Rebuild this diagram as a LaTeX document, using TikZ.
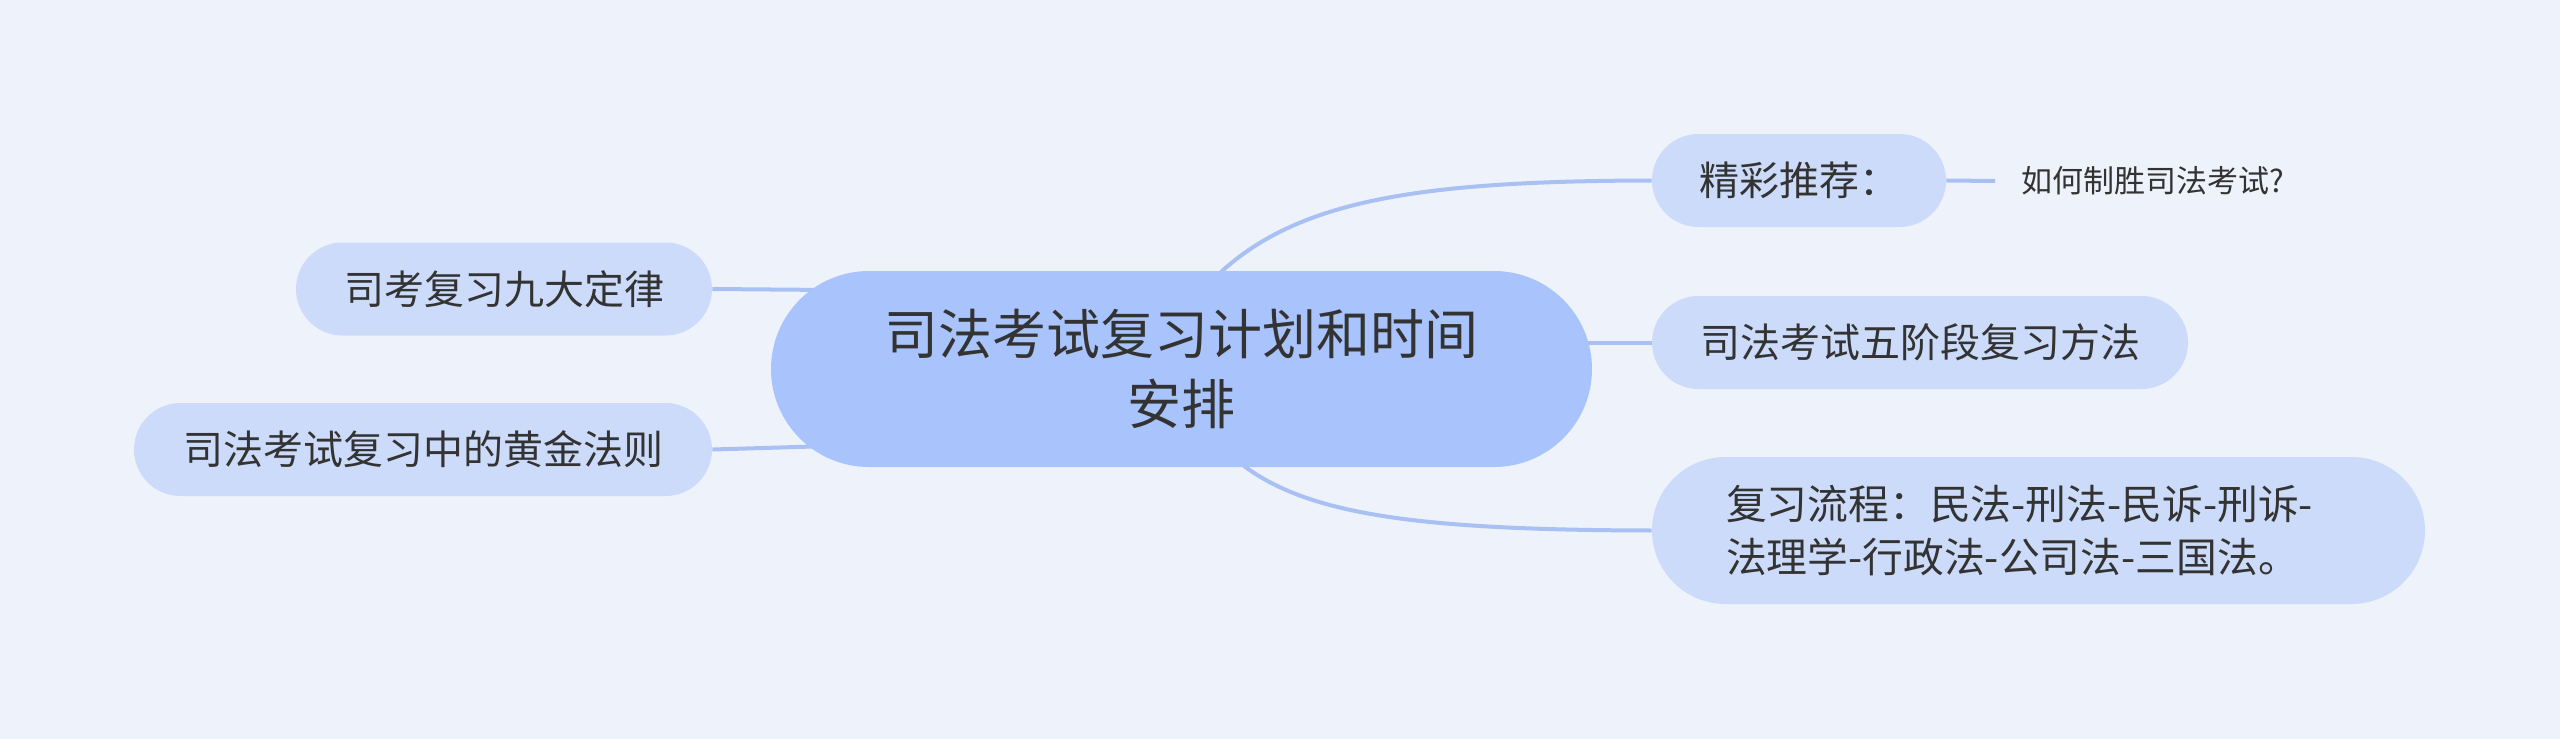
\documentclass[tikz,border=0pt]{standalone}
\usepackage{fontspec}
\setmainfont{Noto Sans CJK SC}
\definecolor{bgc}{HTML}{EEF2FA}
\definecolor{mainc}{HTML}{A9C4FC}
\definecolor{subc}{HTML}{CCDBFA}
\definecolor{linec}{HTML}{A8C0F4}
\definecolor{txtc}{HTML}{333333}
\pgfdeclarelayer{bglayer}
\pgfdeclarelayer{linelayer}
\pgfsetlayers{bglayer,linelayer,main}
\tikzset{
  topic/.style={fill=mainc, rounded corners=49pt, minimum width=410.5pt, minimum height=98pt, inner sep=0pt, align=center, text=txtc, font=\fontsize{27}{35}\selectfont},
  subtopic/.style={fill=subc, rounded corners=23.25pt, minimum height=46.5pt, inner sep=0pt, align=center, text=txtc, font=\fontsize{20}{26.5}\selectfont},
  leaf/.style={inner sep=0pt, text=txtc, font=\fontsize{15.5}{20}\selectfont},
  conn/.style={draw=linec, line width=2pt}
}
\begin{document}
\begin{tikzpicture}[x=0.5pt,y=-0.5pt]
\begin{pgfonlayer}{bglayer}
\fill[bgc] (0,0) rectangle (2560,739);
\end{pgfonlayer}
\useasboundingbox (0,0) rectangle (2560,739);
% nodes
\node[topic] (c) at (1181.5,369) {司法考试复习计划和时间\\安排};
\node[subtopic, minimum width=147pt] (r1) at (1799,180.5) {精彩推荐：};
\node[leaf] (r1a) at (2153,181) {如何制胜司法考试?};
\node[subtopic, minimum width=268pt] (r2) at (1920,342.5) {司法考试五阶段复习方法};
\node[subtopic, minimum width=386.5pt, minimum height=73.5pt, rounded corners=36.75pt, align=left, inner xsep=37pt, text width=312.5pt, font=\fontsize{20.4}{26.5}\selectfont] (r3) at (2038.5,530.5) {复习流程：民法-刑法-民诉-刑诉-\\法理学-行政法-公司法-三国法。};
\node[subtopic, minimum width=208pt] (l1) at (504,289) {司考复习九大定律};
\node[subtopic, minimum width=289pt] (l2) at (423,449.5) {司法考试复习中的黄金法则};
% connector anchor points
\coordinate (ct) at (1221,272);
\coordinate (cb) at (1244,466);
\coordinate (cr) at (1560,342.5);
\coordinate (cl1) at (830,290);
\coordinate (cl2) at (830,446);
\coordinate (r1e) at (1995,181);
\begin{pgfonlayer}{linelayer}
\draw[conn] (ct) .. controls (1300,200) and (1420,181) .. (r1.west);
\draw[conn] (cb) .. controls (1310,515) and (1420,530) .. (r3.west);
\draw[conn] (cr) -- (r2.west);
\draw[conn] (l1.east) -- (cl1);
\draw[conn] (l2.east) -- (cl2);
\draw[conn] (r1.east) -- (r1e);
\end{pgfonlayer}
\end{tikzpicture}
\end{document}
